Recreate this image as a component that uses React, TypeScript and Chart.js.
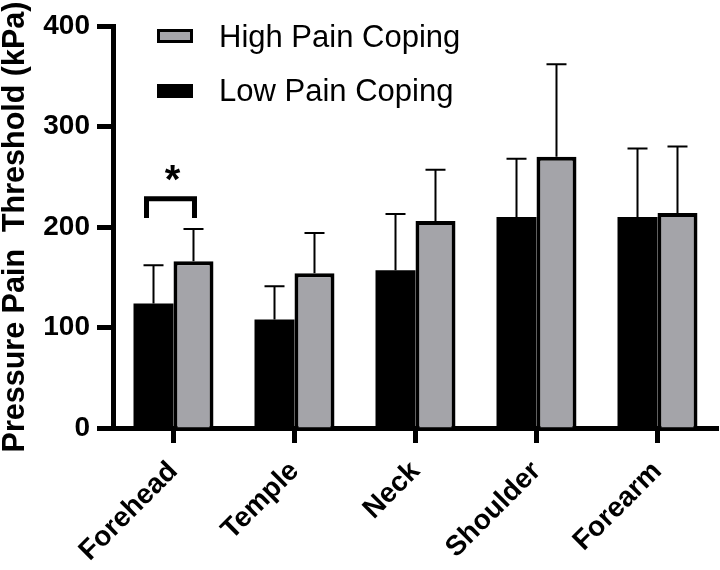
import React, { useEffect, useRef } from 'react';
import { Chart, registerables } from 'chart.js';

Chart.register(...registerables);

const categories = ['Forehead', 'Temple', 'Neck', 'Shoulder', 'Forearm'];
const lowMeans = [124, 108, 157, 210, 210];
const lowSD = [38, 33, 56, 58, 68];
const highMeans = [166, 154, 206, 270, 214];
const highSD = [32, 40, 51, 92, 66];
const yTicks = [0, 100, 200, 300, 400];
const seriesLabels = ['Low Pain Coping', 'High Pain Coping'];
const seriesColors = ['#000000', '#a4a4a9'];
const yTitle = 'Pressure Pain  Threshold (kPa)';
// significance bracket: values (kPa) and marker
const sigIndex = 0;
const sigBracketTop = 228;
const sigBracketLeg = 209;
const sigStarValue = 252;
const sigMark = '*';

const FONT = "'Liberation Sans', Arial, Helvetica, sans-serif";

const errorBarPlugin = {
  id: 'errorBars',
  afterDatasetsDraw(chart: any) {
    const ctx = chart.ctx;
    const y = chart.scales.y;
    chart.data.datasets.forEach((ds: any, i: number) => {
      const meta = chart.getDatasetMeta(i);
      meta.data.forEach((bar: any, j: number) => {
        const top = y.getPixelForValue(ds.data[j] + ds.errors[j]);
        ctx.save();
        ctx.strokeStyle = '#000';
        ctx.lineWidth = 2;
        ctx.beginPath();
        ctx.moveTo(bar.x, bar.y);
        ctx.lineTo(bar.x, top);
        ctx.moveTo(bar.x - 10, top);
        ctx.lineTo(bar.x + 10, top);
        ctx.stroke();
        ctx.restore();
      });
    });
  },
};

const sigPlugin = {
  id: 'sig',
  afterDatasetsDraw(chart: any) {
    const ctx = chart.ctx;
    const y = chart.scales.y;
    const b0 = chart.getDatasetMeta(0).data[sigIndex];
    const b1 = chart.getDatasetMeta(1).data[sigIndex];
    const x0 = b0.x - 7;
    const x1 = b1.x + 1;
    const yt = y.getPixelForValue(sigBracketTop);
    const yl = y.getPixelForValue(sigBracketLeg);
    ctx.save();
    ctx.strokeStyle = '#000';
    ctx.lineWidth = 5;
    ctx.lineJoin = 'miter';
    ctx.lineCap = 'butt';
    ctx.beginPath();
    ctx.moveTo(x0, yl);
    ctx.lineTo(x0, yt);
    ctx.lineTo(x1, yt);
    ctx.lineTo(x1, yl);
    ctx.stroke();
    ctx.fillStyle = '#000';
    ctx.font = `bold 40px ${FONT}`;
    ctx.textAlign = 'center';
    ctx.textBaseline = 'middle';
    ctx.fillText(sigMark, (b0.x + b1.x) / 2 - 1, y.getPixelForValue(sigStarValue) + 7);
    ctx.restore();
  },
};

const legendPlugin = {
  id: 'customLegend',
  afterDraw(chart: any) {
    const ctx = chart.ctx;
    const area = chart.chartArea;
    const order = [1, 0];
    ctx.save();
    order.forEach((di, row) => {
      const ds = chart.data.datasets[di];
      const bx = area.left + 44;
      const by = area.top + 3 + row * 55;
      ctx.fillStyle = ds.backgroundColor;
      ctx.fillRect(bx, by, 36, 14);
      ctx.strokeStyle = '#000';
      ctx.lineWidth = 3;
      ctx.strokeRect(bx + 1.5, by + 1.5, 33, 11);
      ctx.fillStyle = '#000';
      ctx.font = `31px ${FONT}`;
      ctx.textAlign = 'left';
      ctx.textBaseline = 'alphabetic';
      ctx.fillText(ds.label, area.left + 106, area.top + 21 + row * 54);
    });
    ctx.restore();
  },
};

export default function App() {
  const ref = useRef<HTMLCanvasElement | null>(null);
  useEffect(() => {
    if (!ref.current) return;
    const chart = new Chart(ref.current, {
      type: 'bar',
      data: {
        labels: categories,
        datasets: [
          {
            label: seriesLabels[0],
            data: lowMeans,
            errors: lowSD,
            backgroundColor: seriesColors[0],
            borderColor: '#000',
            borderWidth: 0,
            barPercentage: 1,
            categoryPercentage: 0.661,
          } as any,
          {
            label: seriesLabels[1],
            data: highMeans,
            errors: highSD,
            backgroundColor: seriesColors[1],
            borderColor: '#000',
            borderWidth: 4,
            borderSkipped: 'bottom',
            barPercentage: 1,
            categoryPercentage: 0.661,
          } as any,
        ],
      },
      options: {
        responsive: false,
        animation: false,
        layout: { padding: { top: 26, left: 0, right: 2, bottom: 0 } },
        plugins: {
          legend: { display: false },
          tooltip: { enabled: false },
          title: { display: false },
        },
        scales: {
          x: {
            z: 1,
            grid: {
              display: true,
              drawOnChartArea: false,
              drawTicks: true,
              tickLength: 15,
              tickWidth: 5,
              tickColor: '#000',
              offset: false,
            },
            border: { display: true, color: '#000', width: 5 },
            ticks: {
              color: '#000',
              font: { family: FONT, size: 28, weight: 'bold' },
              minRotation: 45,
              maxRotation: 45,
              autoSkip: false,
              padding: 12,
            },
            afterFit: (s: any) => {
              s.height = 142;
              s.paddingRight = 0;
            },
          },
          y: {
            z: 1,
            min: 0,
            max: 400,
            afterBuildTicks: (s: any) => {
              s.ticks = yTicks.map((v) => ({ value: v }));
            },
            grid: {
              display: true,
              drawOnChartArea: false,
              drawTicks: true,
              tickLength: 16,
              tickWidth: 5,
              tickColor: '#000',
            },
            border: { display: true, color: '#000', width: 5 },
            ticks: {
              color: '#000',
              font: { family: FONT, size: 28, weight: 'bold' },
              padding: 7,
            },
            title: {
              display: true,
              text: yTitle,
              color: '#000',
              font: { family: FONT, size: 30.5, weight: 'bold', lineHeight: 1 },
              padding: 0,
            },
            afterFit: (s: any) => {
              s.width = 113;
              s.paddingTop = 0;
              s.paddingBottom = 0;
            },
          },
        },
      } as any,
      plugins: [errorBarPlugin, sigPlugin, legendPlugin],
    });
    return () => chart.destroy();
  }, []);
  return (
    <div style={{ position: 'absolute', left: 0, top: 0, width: 720, height: 570, background: '#fff' }}>
      <canvas ref={ref} width={720} height={570} />
    </div>
  );
}
